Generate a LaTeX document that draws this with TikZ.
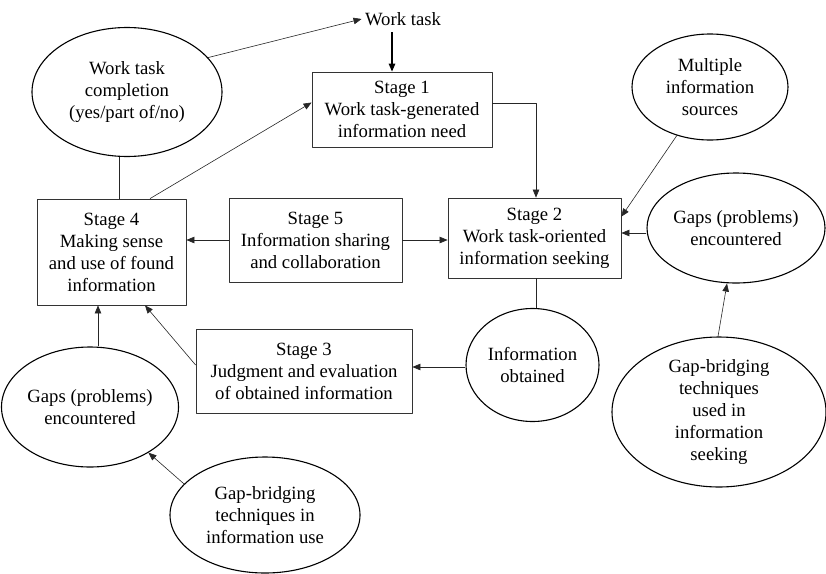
\documentclass[tikz,border=0pt]{standalone}
\usepackage{fontspec}
\setmainfont{Liberation Serif}
\usetikzlibrary{shapes.geometric,arrows.meta}
\tikzset{
	stage/.style={draw=black!80, line width=0.8pt, align=center, inner sep=0pt},
	oval/.style={draw, ellipse, line width=1.1pt, align=center, inner sep=0pt},
	link/.style={->, draw=black!85, line width=0.6pt}
}
\begin{document}
\begin{tikzpicture}[x=1pt, y=-1pt, font=\fontsize{18.7}{22}\selectfont, line join=round, >={Triangle[length=8pt,width=6.5pt]}]
	\useasboundingbox (0,0) rectangle (826,573);
	% stages
	\node[stage, minimum width=180pt, minimum height=75pt] (s1) at (402,109.5) {Stage 1\\Work task-generated\\information need};
	\node[stage, minimum width=173pt, minimum height=80pt] (s2) at (534.5,238) {Stage 2\\Work task-oriented\\information seeking};
	\node[stage, minimum width=216pt, minimum height=84pt] (s3) at (304,371) {Stage 3\\Judgment and evaluation\\of obtained information};
	\node[stage, minimum width=149pt, minimum height=106pt] (s4) at (111.5,252) {Stage 4\\Making sense\\and use of found\\information};
	\node[stage, minimum width=173pt, minimum height=84pt] (s5) at (315.5,240) {Stage 5\\Information sharing\\and collaboration};
	% ellipses
	\node (wt) at (403,19) {Work task};
	\node[oval, minimum width=190pt, minimum height=129pt] (done) at (127,92) {Work task\\completion\\(yes/part of/no)};
	\node[oval, minimum width=156pt, minimum height=106pt] (sources) at (710,87) {Multiple\\information\\sources};
	\node[oval, minimum width=178pt, minimum height=110pt] (gapsR) at (736,228) {Gaps (problems)\\encountered};
	\node[oval, minimum width=214pt, minimum height=150pt] (bridgeR) at (719,412) {Gap-bridging\\techniques\\used in\\information\\seeking};
	\node[oval, minimum width=133pt, minimum height=113pt] (obtained) at (532.5,365) {Information\\obtained};
	\node[oval, minimum width=166pt, minimum height=120pt] (gapsL) at (90,407) {Gaps (problems)\\encountered};
	\node[oval, minimum width=190pt, minimum height=116pt] (bridgeL) at (265,515) {Gap-bridging\\techniques in\\information use};
	% connectors (yshift is on the page, so + is up)
	\draw[link] (done.23) -- (wt.west);
	\draw[->, line width=1.3pt] ([xshift=-11pt, yshift=-3pt]wt.south) -- ([xshift=-10pt]s1.north);
	\draw[draw=black!85, line width=0.6pt] ([xshift=-8pt]done.south) -- ([xshift=7.5pt]s4.north);
	\draw[link] ([xshift=38.5pt]s4.north) -- ([yshift=7pt]s1.west);
	\draw[link] ([yshift=6.5pt]s1.east) -| ([xshift=1.5pt]s2.north);
	\draw[link] (sources) -- ([yshift=-19pt]s2.north east);
	\draw[link] ([yshift=-5pt]gapsR.west) -- ([yshift=-5pt]gapsR.west -| s2.east);
	\draw[link] ([xshift=-1pt]bridgeR.north) -- ([xshift=-9pt]gapsR.south);
	\draw[link] (s5.west) -- (s5.west -| s4.east);
	\draw[link] (s5.east) -- (s5.east -| s2.west);
	\draw[draw=black!85, line width=0.6pt] ([xshift=1.5pt]s2.south) -- ([xshift=1.5pt]s2.south |- obtained.north);
	\draw[link] ([yshift=-2pt]obtained.west) -- ([yshift=-2pt]obtained.west -| s3.east);
	\draw[link] ([yshift=6pt]s3.west) -- ([xshift=33.5pt]s4.south);
	\draw[link] ([xshift=8pt]gapsL.north) -- ([xshift=8pt]gapsL.north |- s4.south);
	\draw[link] (bridgeL.159) -- (gapsL.322);
\end{tikzpicture}
\end{document}
